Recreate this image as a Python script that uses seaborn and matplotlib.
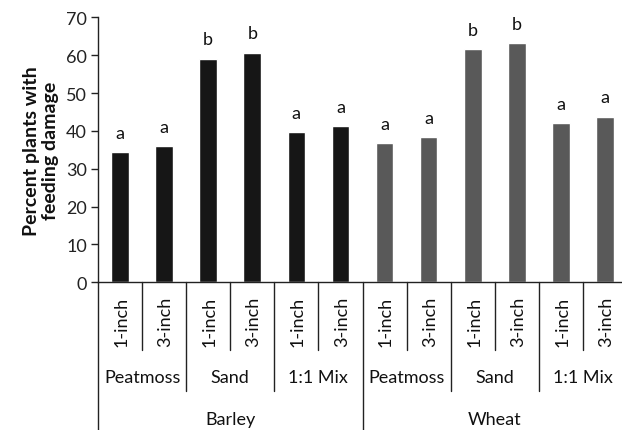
import matplotlib
matplotlib.use("Agg")
import matplotlib.pyplot as plt
import matplotlib.transforms as mtransforms
import seaborn as sns
import pandas as pd

# ---- data ----
crops = ["Barley", "Wheat"]
soils = ["Peatmoss", "Sand", "1:1 Mix"]
depths = ["1-inch", "3-inch"]
barley_values = [34.4, 36.0, 59.1, 60.6, 39.7, 41.3]
wheat_values = [36.7, 38.3, 61.5, 63.1, 42.1, 43.7]
barley_letters = ["a", "a", "b", "b", "a", "a"]
wheat_letters = ["a", "a", "b", "b", "a", "a"]
y_ticks = [0, 10, 20, 30, 40, 50, 60, 70]
y_label = "Percent plants with\nfeeding damage"

rows = []
for crop, vals, lets in [("Barley", barley_values, barley_letters),
                         ("Wheat", wheat_values, wheat_letters)]:
    i = 0
    for soil in soils:
        for d in depths:
            rows.append({"crop": crop, "soil": soil, "depth": d,
                         "value": vals[i], "letter": lets[i]})
            i += 1
df = pd.DataFrame(rows)
df["key"] = [f"{r.crop}|{r.soil}|{r.depth}" for r in df.itertuples()]

sns.set_theme(style="white")
plt.rcParams["font.family"] = ["Lato", "DejaVu Sans"]

FS = 13
fig = plt.figure(figsize=(6.22, 4.31), dpi=100)
W, H = 622, 431
left_px, right_px, top_px, bot_px = 98, 627, 18.3, 283.3
ax = fig.add_axes([left_px / W, 1 - bot_px / H, (right_px - left_px) / W, (bot_px - top_px) / H])

sns.barplot(data=df, x="key", y="value", hue="crop", order=list(df["key"]),
            palette={"Barley": "#161616", "Wheat": "#595959"},
            dodge=False, width=0.4, legend=False, ax=ax, saturation=1)

ax.set_xlim(-0.5, len(df) - 0.5)
ax.set_ylim(0, 70)
ax.set_yticks(y_ticks)
ax.set_yticklabels([str(t) for t in y_ticks], fontsize=FS, color="#222222")
ax.set_xticks([])
ax.set_xlabel("")
ax.set_ylabel(y_label, fontsize=14, fontweight="bold", color="#111111", labelpad=5,
              linespacing=1.15)
ax.tick_params(axis="y", direction="out", length=5, width=1, color="#222222", left=True, pad=3)
for s in ["top", "right"]:
    ax.spines[s].set_visible(False)
for s in ["left", "bottom"]:
    ax.spines[s].set_color("#222222")
    ax.spines[s].set_linewidth(1)

# significance letters
for i, r in enumerate(df.itertuples()):
    ax.text(i, r.value + 3.8, r.letter, ha="center", va="baseline",
            fontsize=FS, color="#111111")

# hierarchical axis labels
trans = mtransforms.blended_transform_factory(ax.transData, ax.transAxes)
axh = bot_px - top_px
y1 = -(351 - bot_px) / axh
y2 = -(392 - bot_px) / axh
y3 = -(431 - bot_px) / axh - 0.02
lc = "#222222"
n = len(df)
for k in range(n + 1):
    if k % 6 == 0:
        yend = y3
    elif k % 2 == 0:
        yend = y2
    else:
        yend = y1
    ax.plot([k - 0.5, k - 0.5], [0, yend], color=lc, lw=1, transform=trans, clip_on=False)

for i, r in enumerate(df.itertuples()):
    ax.text(i + 0.03, -(322 - bot_px) / axh, r.depth, rotation=90, ha="center", va="center",
            fontsize=FS, color="#111111", transform=trans)
for j in range(n // 2):
    ax.text(2 * j + 0.5, -(378 - bot_px) / axh, soils[j % 3], ha="center", va="center",
            fontsize=FS, color="#111111", transform=trans)
for c, crop in enumerate(crops):
    ax.text(6 * c + 2.5, -(420 - bot_px) / axh, crop, ha="center", va="center",
            fontsize=FS, color="#111111", transform=trans)

fig.savefig("out.png", dpi=100)
